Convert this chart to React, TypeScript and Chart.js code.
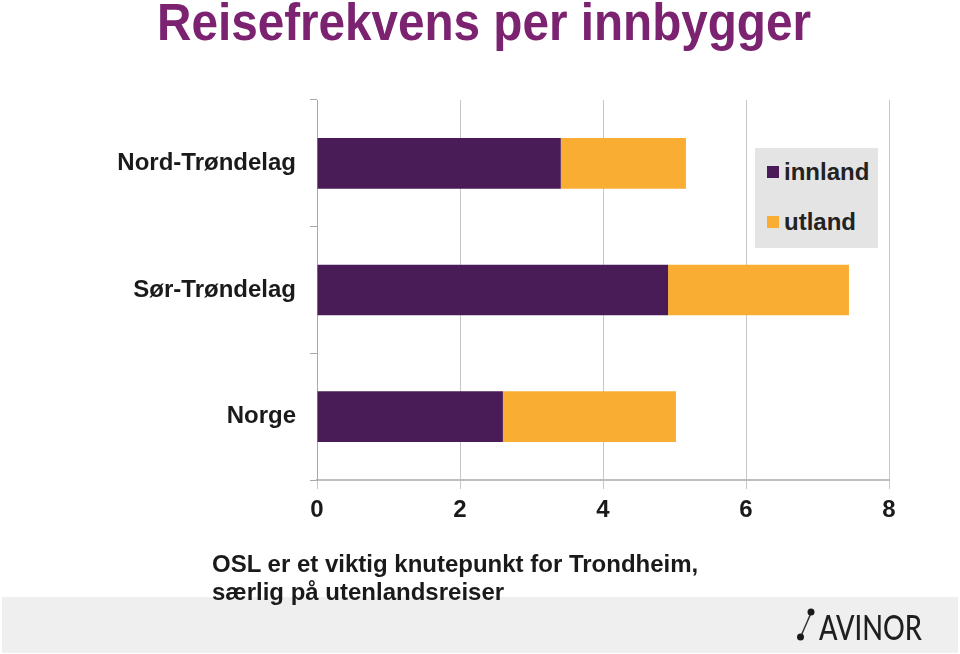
import React, { useEffect, useRef } from "react";
import { Chart, registerables } from "chart.js";

Chart.register(...registerables);

const categories = ["Nord-Trøndelag", "Sør-Trøndelag", "Norge"];
const innland = [3.41, 4.91, 2.6];
const utland = [1.75, 2.53, 2.42];
const seriesNames = ["innland", "utland"];
const xMin = 0;
const xMax = 8;
const xStep = 2;

const PURPLE = "#4a1c57";
const ORANGE = "#f9ae33";
const FONT = "'Liberation Sans', Arial, Helvetica, sans-serif";

export default function App() {
  const ref = useRef<HTMLCanvasElement | null>(null);

  useEffect(() => {
    document.body.style.margin = "0";
    const canvas = ref.current;
    if (!canvas) return;
    const chart = new Chart(canvas, {
      type: "bar",
      data: {
        labels: categories,
        datasets: [
          {
            label: seriesNames[0],
            data: innland,
            backgroundColor: PURPLE,
            categoryPercentage: 0.4,
            barPercentage: 1,
          },
          {
            label: seriesNames[1],
            data: utland,
            backgroundColor: ORANGE,
            categoryPercentage: 0.4,
            barPercentage: 1,
          },
        ],
      },
      options: {
        indexAxis: "y",
        responsive: false,
        animation: false,
        devicePixelRatio: 1,
        layout: { padding: { top: 100, right: 71, left: 0, bottom: 0 } },
        plugins: {
          legend: { display: false },
          tooltip: { enabled: false },
          title: { display: false },
        },
        scales: {
          x: {
            type: "linear",
            stacked: true,
            min: xMin,
            max: xMax,
            ticks: {
              stepSize: xStep,
              color: "#1a1a1a",
              font: { family: FONT, size: 24, weight: "bold" },
              padding: 7,
            },
            grid: {
              color: "#c6c6c6",
              lineWidth: 1,
              tickLength: 9,
            },
            border: { color: "#bdbdbd", width: 2 },
            afterFit: (scale: any) => {
              scale.height = 174;
            },
          },
          y: {
            type: "category",
            stacked: true,
            offset: true,
            ticks: {
              color: "#1a1a1a",
              font: { family: FONT, size: 24, weight: "bold" },
              padding: 14,
            },
            grid: {
              offset: true,
              drawOnChartArea: false,
              color: "#a8a8a8",
              tickLength: 7,
            },
            border: { color: "#a8a8a8", width: 1 },
            afterFit: (scale: any) => {
              scale.width = 317;
            },
          },
        },
      },
    });
    return () => chart.destroy();
  }, []);

  return (
    <div
      style={{
        position: "relative",
        width: 960,
        height: 654,
        background: "#ffffff",
        overflow: "hidden",
        fontFamily: FONT,
      }}
    >
      <div
        style={{
          position: "absolute",
          left: 2,
          top: 597,
          width: 956,
          height: 56,
          background: "#efefef",
        }}
      />
      <canvas
        ref={ref}
        width={960}
        height={654}
        style={{ position: "absolute", left: 0, top: 0, width: 960, height: 654 }}
      />
      <div
        style={{
          position: "absolute",
          left: 755,
          top: 148,
          width: 123,
          height: 100,
          background: "#e4e4e4",
        }}
      >
        {seriesNames.map((name, i) => (
          <div
            key={name}
            style={{
              position: "absolute",
              left: 12,
              top: 12 + i * 50,
              height: 24,
              display: "flex",
              alignItems: "center",
              fontSize: 24,
              fontWeight: "bold",
              color: "#222222",
              whiteSpace: "nowrap",
            }}
          >
            <span
              style={{
                display: "inline-block",
                width: 12,
                height: 12,
                background: i === 0 ? PURPLE : ORANGE,
                marginRight: 5,
              }}
            />
            <span>{name}</span>
          </div>
        ))}
      </div>
      <svg
        width={960}
        height={654}
        style={{ position: "absolute", left: 0, top: 0, pointerEvents: "none" }}
      >
        <text
          x={484}
          y={40}
          textAnchor="middle"
          fontFamily={FONT}
          fontWeight="bold"
          fontSize={51}
          fill="#7b2270"
          textLength={654}
          lengthAdjust="spacingAndGlyphs"
        >
          Reisefrekvens per innbygger
        </text>
        <text x={212} y={572} fontFamily={FONT} fontWeight="bold" fontSize={24} fill="#1a1a1a">
          OSL er et viktig knutepunkt for Trondheim,
        </text>
        <text x={212} y={600} fontFamily={FONT} fontWeight="bold" fontSize={24} fill="#1a1a1a">
          særlig på utenlandsreiser
        </text>
        <line x1={801} y1={636} x2={811} y2={613} stroke="#333" strokeWidth={1.5} />
        <circle cx={811} cy={612} r={3.5} fill="#1a1a1a" />
        <circle cx={800.5} cy={637} r={3.5} fill="#1a1a1a" />
        <text
          x={819}
          y={640}
          fontFamily="Lato, 'Liberation Sans', sans-serif"
          fontWeight={500}
          fontSize={34}
          fill="#1f1f1f"
          textLength={103}
          lengthAdjust="spacingAndGlyphs"
        >
          AVINOR
        </text>
      </svg>
    </div>
  );
}
